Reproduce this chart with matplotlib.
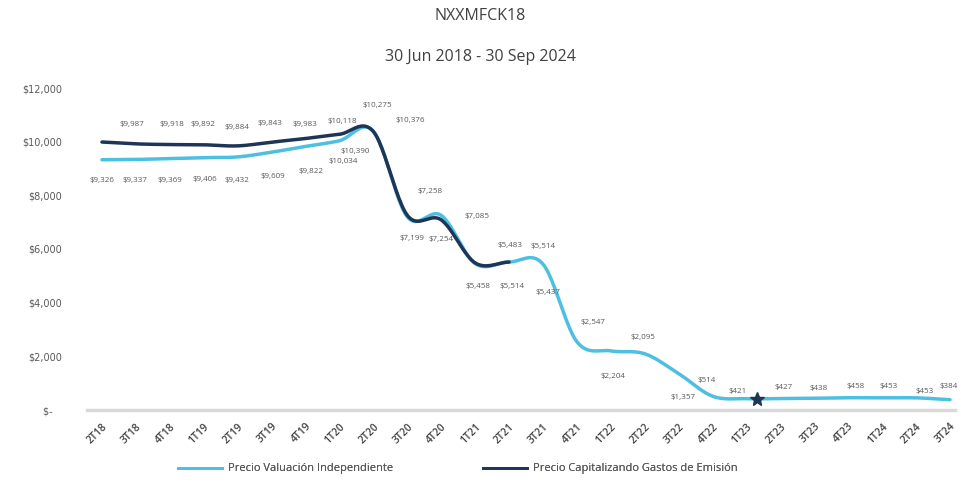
"""
NXXMFCK18 - precio por trimestre (30 Jun 2018 - 30 Sep 2024)
"""

import numpy as np
import matplotlib
matplotlib.use('Agg')
import matplotlib.pyplot as plt
from matplotlib.lines import Line2D

plt.rcParams['font.family'] = ['Open Sans', 'DejaVu Sans']

# ===== datos =====
trimestres = ['2T18', '3T18', '4T18', '1T19', '2T19', '3T19', '4T19', '1T20', '2T20',
              '3T20', '4T20', '1T21', '2T21', '3T21', '4T21', '1T22', '2T22', '3T22',
              '4T22', '1T23', '2T23', '3T23', '4T23', '1T24', '2T24', '3T24']

precio_independiente = [9326, 9337, 9369, 9406, 9432, 9609, 9822, 10034, 10390,
                        7199, 7254, 5458, 5514, 5437, 2547, 2204, 2095, 1357,
                        514, 421, 427, 438, 458, 453, 453, 384]

# solo hasta 2T21
precio_capitalizado = [9987, 9918, 9892, 9884, 9843, 9983, 10118, 10275, 10376,
                       7258, 7085, 5483, 5514]

marca_pos = [19.3]
marca_valor = [421]

y_ticks = [0, 2000, 4000, 6000, 8000, 10000, 12000]
y_tick_labels = ['$-   ', '$2,000', '$4,000', '$6,000', '$8,000', '$10,000', '$12,000']

# desplazamiento de etiquetas (pixeles, centro de la etiqueta respecto al punto)
off_independiente = [(0, -21), (-1, -21), (0, -22), (1, -22), (-1, -24), (1, -24), (5, -25),
                     (4, -21), (-18, -20), (5, -22), (0, -24), (3, -23), (3, -24), (5, -28),
                     (16, 19), (2, -26), (-2, 16), (4, -24), (-6, 16), (-9, 7), (3, 11),
                     (4, 10), (7, 11), (6, 11), (9, 6), (-1, 13)]
off_capitalizado = [(30, 18), (36, 19), (33, 20), (33, 17), (32, 22), (33, 18), (37, 17),
                    (38, 29), (37, 11), (23, 24), (36, 3), (35, 17), (34, 16)]

COLOR_CLARO = '#4dc0e2'
COLOR_OSCURO = '#1e3556'
GRIS = '#595959'


def suavizar(y, n=24):
    """curva suave tipo Excel (Catmull-Rom) sobre posiciones enteras"""
    y = np.asarray(y, dtype=float)
    k = len(y)
    m = np.zeros(k)
    m[1:-1] = (y[2:] - y[:-2]) / 2
    m[0] = y[1] - y[0]
    m[-1] = y[-1] - y[-2]
    xs, ys = [], []
    for i in range(k - 1):
        t = np.linspace(0, 1, n, endpoint=False)
        h00 = 2 * t**3 - 3 * t**2 + 1
        h10 = t**3 - 2 * t**2 + t
        h01 = -2 * t**3 + 3 * t**2
        h11 = t**3 - t**2
        xs.append(i + t)
        ys.append(h00 * y[i] + h10 * m[i] + h01 * y[i + 1] + h11 * m[i + 1])
    xs.append(np.array([k - 1]))
    ys.append(np.array([y[-1]]))
    return np.concatenate(xs), np.concatenate(ys)


fig = plt.figure(figsize=(9.61, 4.95), dpi=100)
ax = fig.add_axes([87 / 961, 85 / 495, (955 - 87) / 961, (410 - 88) / 495])

xi, yi = suavizar(precio_independiente)
xc, yc = suavizar(precio_capitalizado)
ax.plot(xi, yi, color=COLOR_CLARO, linewidth=2.5, solid_capstyle='round')
ax.plot(xc, yc, color=COLOR_OSCURO, linewidth=2.5, solid_capstyle='round')
ax.plot(marca_pos, marca_valor, linestyle='none', marker='*', markersize=10,
        color=COLOR_OSCURO)

# etiquetas de datos
for i, v in enumerate(precio_independiente):
    ax.annotate(f'${v:,}', xy=(i, v), xytext=off_independiente[i], textcoords='offset pixels',
                ha='center', va='center', fontsize=5.8, color=GRIS, annotation_clip=False)
for i, v in enumerate(precio_capitalizado):
    ax.annotate(f'${v:,}', xy=(i, v), xytext=off_capitalizado[i], textcoords='offset pixels',
                ha='center', va='center', fontsize=5.8, color=GRIS, annotation_clip=False)

# ===== ejes =====
ax.set_xlim(-0.442, 25.147)
ax.set_ylim(0, 12000)
ax.set_yticks(y_ticks)
ax.set_yticklabels(y_tick_labels, fontsize=7, color=GRIS, family=['DejaVu Sans'])
ax.set_xticks(range(len(trimestres)))
ax.set_xticklabels(trimestres, rotation=45, ha='right', va='top', rotation_mode='anchor',
                   fontsize=7.5, color='#404040', fontweight='semibold')
ax.tick_params(axis='y', length=0, pad=18)
ax.tick_params(axis='x', length=0, pad=8)
for s in ['top', 'right', 'left']:
    ax.spines[s].set_visible(False)
ax.spines['bottom'].set_color('#d9d9d9')
ax.spines['bottom'].set_linewidth(2.5)

fig.text(0.5, 1 - 16 / 495, 'NXXMFCK18', ha='center', va='center', fontsize=11.5, color='#404040')
fig.text(0.5, 1 - 57 / 495, '30 Jun 2018 - 30 Sep 2024', ha='center', va='center',
         fontsize=11.5, color='#404040')

# leyenda: dos entradas colocadas por separado
entradas = [('Precio Valuación Independiente', COLOR_CLARO, 178),
            ('Precio Capitalizando Gastos de Emisión', COLOR_OSCURO, 483)]
for texto, color, x0 in entradas:
    h = Line2D([], [], color=color, linewidth=2.0)
    leg = fig.legend([h], [texto], loc='center left', bbox_to_anchor=(x0 / 961, 1 - 469 / 495),
                     frameon=False, fontsize=8, handlelength=4.0, handletextpad=0.5,
                     borderpad=0, borderaxespad=0, labelcolor=GRIS)
    fig.add_artist(leg)

fig.savefig('out.png', dpi=100)
